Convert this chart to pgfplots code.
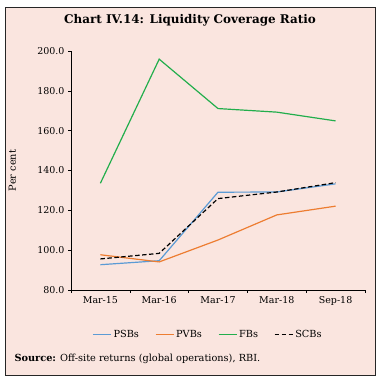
\documentclass[border=0pt]{standalone}
\usepackage{pgfplots}
\pgfplotsset{compat=1.18}
\usepackage{fontspec}
\setmainfont{DejaVu Serif}
\definecolor{bgpink}{HTML}{FAE5DF}
\definecolor{psb}{HTML}{5B9BD5}
\definecolor{pvb}{HTML}{ED7D31}
\definecolor{fb}{HTML}{22AE4C}
\begin{document}
\begin{tikzpicture}[x=1bp,y=1bp]
\fill[white] (0,0) rectangle (379,381);
\filldraw[fill=bgpink,draw=black!85,line width=0.8pt] (5,6) rectangle (375,374);
\node[font=\fontsize{12}{14}\selectfont\bfseries] at (190,361) {Chart IV.14: Liquidity Coverage Ratio};
\node[anchor=west,font=\fontsize{9.8}{11}\selectfont] at (11,22) {\textbf{Source:} Off-site returns (global operations), RBI.};
\begin{axis}[
  at={(71bp,91bp)}, anchor=south west,
  scale only axis, width=294bp, height=239bp,
  xmin=-0.5, xmax=4.5, ymin=80, ymax=200,
  axis x line*=bottom, axis y line*=left,
  axis line style={black, line width=0.6pt, -},
  xtick={0,1,2,3,4},
  xticklabels={Mar-15,Mar-16,Mar-17,Mar-18,Sep-18},
  minor xtick={-0.5,0.5,1.5,2.5,3.5,4.5},
  ytick={80,100,...,200},
  tick align=outside,
  major tick length=3pt, minor tick length=3pt,
  every tick/.style={black, line width=0.6pt},
  major x tick style={draw=none},
  yticklabel style={/pgf/number format/.cd, fixed, fixed zerofill, precision=1, assume math mode=true},
  ticklabel style={font=\fontsize{9.5}{11}\selectfont},
  ylabel={Per cent},
  ylabel style={font=\fontsize{9.8}{11}\selectfont},
  y label style={at={(axis description cs:-0.175,0.5)}},
  legend columns=4,
  legend style={at={(0.466,-0.185)}, anchor=center, draw=none, fill=none,
    font=\fontsize{9.8}{11}\selectfont, /tikz/every even column/.append style={column sep=14bp}},
  legend image code/.code={\draw[#1] (0bp,0bp) -- (18bp,0bp);},
]
\addplot[psb, line width=1.2pt] coordinates {(0,92.7) (1,94.7) (2,129.1) (3,129.2) (4,133.3)};
\addlegendentry{PSBs}
\addplot[pvb, line width=1.2pt] coordinates {(0,97.7) (1,94.1) (2,105.1) (3,117.7) (4,122.1)};
\addlegendentry{PVBs}
\addplot[fb, line width=1.2pt] coordinates {(0,133.6) (1,195.9) (2,171.1) (3,169.3) (4,164.9)};
\addlegendentry{FBs}
\addplot[black, line width=1.2pt, dash pattern=on 4.5pt off 2.5pt] coordinates {(0,95.6) (1,98.4) (2,125.9) (3,129.2) (4,133.9)};
\addlegendentry{SCBs}
\end{axis}
\end{tikzpicture}
\end{document}
